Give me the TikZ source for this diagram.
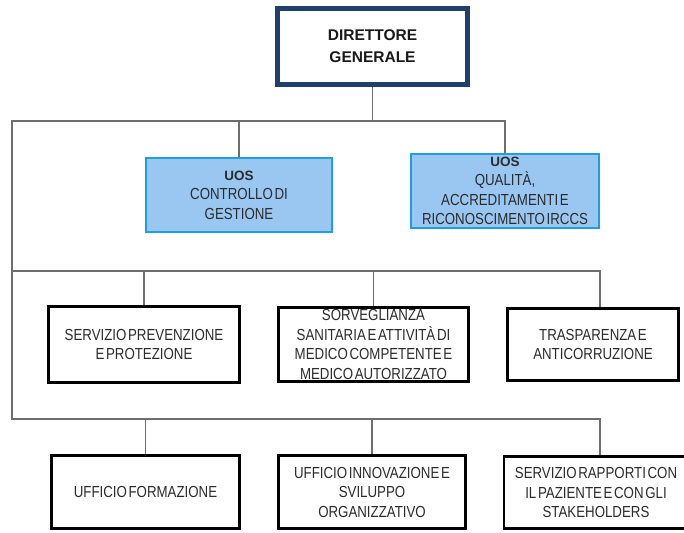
\documentclass[tikz,border=0pt]{standalone}
\usepackage{fontspec}
\setmainfont{Liberation Sans}[FakeStretch=0.83, WordSpace=0.45]
\newfontfamily\headfont{Liberation Sans}
\usetikzlibrary{positioning}
\definecolor{dgblue}{HTML}{1F3F6E}
\definecolor{uosfill}{HTML}{9AC7F2}
\definecolor{uosline}{HTML}{1E9FE3}
\definecolor{connline}{HTML}{6E6E6E}
\definecolor{txt}{HTML}{2B2B2B}
\tikzset{
    ufficio/.style 2 args={
        draw=black, line width=2.6pt, fill=white, text=txt,
        inner sep=0pt, minimum width=#1, minimum height=#2,
        align=center, font=\fontsize{16}{19.5}\selectfont,
    },
    uosbox/.style 2 args={
        ufficio={#1}{#2}, draw=uosline, line width=2pt, fill=uosfill,
    },
    conn/.style={draw=connline, line width=1.7pt},
}

\begin{document}
\begin{tikzpicture}[x=1pt, y=-1pt]
    \useasboundingbox (0,0) rectangle (684,532);

    \node[draw=dgblue, line width=5pt, inner sep=0pt, minimum width=190,
        minimum height=76, align=center, text=black!90,
        font=\headfont\bfseries\fontsize{15.5}{22}\selectfont]
        (dg) at (372.5,46.5) {DIRETTORE\\GENERALE};

    \node[uosbox={186}{74}] (uos1) at (239,195)
        {{\headfont\bfseries\fontsize{13.5}{19.5}\selectfont UOS}\\CONTROLLO DI\\GESTIONE};
    \node[uosbox={188}{74}] (uos2) at (505,191)
        {{\headfont\bfseries\fontsize{13.5}{19.5}\selectfont UOS}\\QUALITÀ,\\ACCREDITAMENTI E\\RICONOSCIMENTO IRCCS};

    \node[ufficio={191}{76}] (srv) at (144,344.5) {SERVIZIO PREVENZIONE\\E PROTEZIONE};
    \node[ufficio={190}{74}] (sorv) at (373.5,344.5)
        {SORVEGLIANZA\\SANITARIA E ATTIVITÀ DI\\MEDICO COMPETENTE E\\MEDICO AUTORIZZATO};
    \node[ufficio={171}{72}] (trasp) at (593,344.5) {TRASPARENZA E\\ANTICORRUZIONE};

    \node[ufficio={188}{73}] (form) at (145.5,492) {UFFICIO FORMAZIONE};
    \node[ufficio={187}{73}] (innov) at (372,492) {UFFICIO INNOVAZIONE E\\SVILUPPO\\ORGANIZZATIVO};
    \node[ufficio={184}{72}] (rapp) at (596,492.5)
        {SERVIZIO RAPPORTI CON\\IL PAZIENTE E CON GLI\\STAKEHOLDERS};

    \coordinate (t0) at (12,121);
    \coordinate (m0) at (12,271);
    \coordinate (m1) at (600,271);
    \coordinate (b0) at (12,419);
    \coordinate (b1) at (600,419);

    \draw[conn] (dg) -- (dg |- t0);
    \draw[conn] (uos1) -- (uos1 |- t0);
    \draw[conn] (uos2) |- (t0) -- (b0) -- (b1) -- (b1 |- rapp.north);
    \draw[conn] (m0) -- (m1) -- (m1 |- trasp.north);
    \draw[conn] (srv) -- (srv |- m0);
    \draw[conn] (sorv) -- (sorv |- m0);
    \draw[conn] (form) -- (form |- b0);
    \draw[conn] (innov) -- (innov |- b0);
\end{tikzpicture}
\end{document}
